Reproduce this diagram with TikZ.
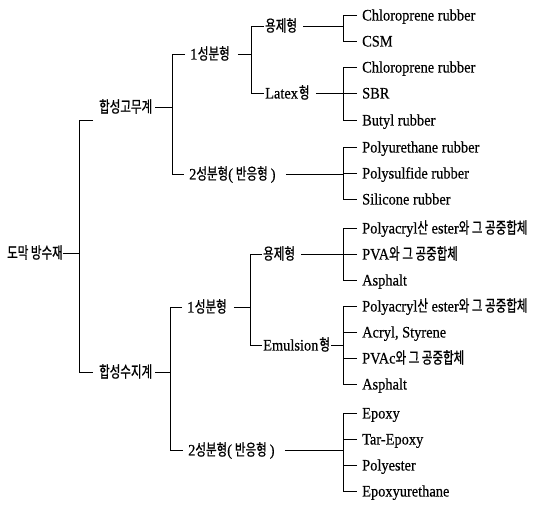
\documentclass[tikz,border=0pt]{standalone}
\usepackage{fontspec}
\setmainfont{Liberation Serif}[FakeStretch=0.9, FakeBold=0.4]
\newfontfamily\hgfont{Noto Sans CJK KR}[FakeStretch=0.72, FakeBold=0.8]
\newcommand\hg[1]{{\hgfont #1}}

\begin{document}
\begin{tikzpicture}[x=1pt,y=-1pt,
  lbl/.style={inner sep=0pt, anchor=west, text height=11.5pt, text depth=0.5pt,
              font=\fontsize{16}{18}\selectfont},
  wire/.style={line width=0.75pt, black}]
\useasboundingbox (0,0) rectangle (542,505);

% bracket columns
\coordinate (x0)  at (79,0);
\coordinate (x1)  at (172,0);
\coordinate (x1s) at (170,0);
\coordinate (x2)  at (251,0);
\coordinate (x2s) at (250,0);
\coordinate (x3)  at (343,0);

% ---- labels ----
\node[lbl] (root) at (7,253) {\hg{도막 방수재}};

\node[lbl] (rub) at (99,107) {\hg{합성고무계}};
\node[lbl] (res) at (99,372) {\hg{합성수지계}};

\node[lbl] (ra) at (190,54)  {1\kern0.5pt\hg{성분형}};
\node[lbl] (rb) at (189,174) {2\hg{성분형}(\kern3pt\hg{반응형}\kern3pt)};
\node[lbl] (sa) at (187,307) {1\kern0.5pt\hg{성분형}};
\node[lbl] (sb) at (188,450) {2\hg{성분형}(\kern3pt\hg{반응형}\kern3pt)};

\node[lbl] (rsol) at (265,26)  {\hg{용제형}};
\node[lbl] (rlat) at (265,93)  {Latex\kern1pt\hg{형}};
\node[lbl] (ssol) at (263,254) {\hg{용제형}};
\node[lbl] (semu) at (263,345) {Emulsion\kern1pt\hg{형}};

\node[lbl] (i1) at (362,15)  {Chloroprene rubber};
\node[lbl] (i2) at (362,41)  {CSM};
\node[lbl] (i3) at (362,67)  {Chloroprene rubber};
\node[lbl] (i4) at (362,93)  {SBR};
\node[lbl] (i5) at (362,120) {Butyl rubber};
\node[lbl] (i6) at (362,147) {Polyurethane rubber};
\node[lbl] (i7) at (362,173) {Polysulfide rubber};
\node[lbl] (i8) at (362,199) {Silicone rubber};

\node[lbl] (j1)  at (362,228) {Polyacryl\hg{산} ester\hg{와 그 공중합체}};
\node[lbl] (j2)  at (362,254) {PVA\hg{와 그 공중합체}};
\node[lbl] (j3)  at (362,280) {Asphalt};
\node[lbl] (j4)  at (362,306) {Polyacryl\hg{산} ester\hg{와 그 공중합체}};
\node[lbl] (j5)  at (362,332) {Acryl, Styrene};
\node[lbl] (j6)  at (362,358) {PVAc\hg{와 그 공중합체}};
\node[lbl] (j7)  at (362,384) {Asphalt};
\node[lbl] (j8)  at (362,413) {Epoxy};
\node[lbl] (j9)  at (362,439) {Tar-Epoxy};
\node[lbl] (j10) at (362,465) {Polyester};
\node[lbl] (j11) at (362,491) {Epoxyurethane};

% ---- connectors ----
% root
\draw[wire] (root.east) -- (root.east -| x0);
\coordinate (rubtick) at (93,120);
\draw[wire] (rubtick) -| (x0 |- res.west) -- ([xshift=-6pt]res.west);

% synthetic rubber branch
\draw[wire] ([xshift=3pt]rub.east) -- (rub.east -| x1);
\draw[wire] ([xshift=-5pt]ra.west) -| (x1 |- rb.west) -- ([xshift=-5pt]rb.west);

\draw[wire] ([xshift=8pt]ra.east) -- (ra.east -| x2);
\draw[wire] ([xshift=-1pt]rsol.west) -| (x2 |- rlat.west) -- ([xshift=-1pt]rlat.west);

\draw[wire] ([xshift=6pt]rsol.east) -- (rsol.east -| x3);
\draw[wire] ([xshift=-5pt]i1.west) -| (x3 |- i2.west) -- ([xshift=-5pt]i2.west);

\draw[wire] ([xshift=6pt]rlat.east) -- (rlat.east -| x3);
\draw[wire] ([xshift=-5pt]i3.west) -| (x3 |- i5.west) -- ([xshift=-5pt]i5.west);
\draw[wire] ([xshift=-5pt]i4.west) -- (i4.west -| x3);

\draw[wire] ([xshift=10pt]rb.east) -- (rb.east -| x3);
\draw[wire] ([xshift=-5pt]i6.west) -| (x3 |- i8.west) -- ([xshift=-5pt]i8.west);
\draw[wire] ([xshift=-5pt]i7.west) -- (i7.west -| x3);

% synthetic resin branch
\draw[wire] ([xshift=3pt]res.east) -- (res.east -| x1s);
\draw[wire] ([xshift=-5pt]sa.west) -| (x1s |- sb.west) -- ([xshift=-5pt]sb.west);

\draw[wire] ([xshift=7pt]sa.east) -- (sa.east -| x2s);
\draw[wire] ([xshift=-1pt]ssol.west) -| (x2s |- semu.west) -- ([xshift=-1pt]semu.west);

\draw[wire] ([xshift=6pt]ssol.east) -- (ssol.east -| x3);
\draw[wire] ([xshift=-5pt]j1.west) -| (x3 |- j3.west) -- ([xshift=-5pt]j3.west);
\draw[wire] ([xshift=-5pt]j2.west) -- (j2.west -| x3);

\draw[wire] ([xshift=1pt]semu.east) -- (semu.east -| x3);
\draw[wire] ([xshift=-5pt]j4.west) -| (x3 |- j7.west) -- ([xshift=-5pt]j7.west);
\draw[wire] ([xshift=-5pt]j5.west) -- (j5.west -| x3);
\draw[wire] ([xshift=-5pt]j6.west) -- (j6.west -| x3);

\draw[wire] ([xshift=10pt]sb.east) -- (sb.east -| x3);
\draw[wire] ([xshift=-5pt]j8.west) -| (x3 |- j11.west) -- ([xshift=-5pt]j11.west);
\draw[wire] ([xshift=-5pt]j9.west) -- (j9.west -| x3);
\draw[wire] ([xshift=-5pt]j10.west) -- (j10.west -| x3);
\end{tikzpicture}
\end{document}
